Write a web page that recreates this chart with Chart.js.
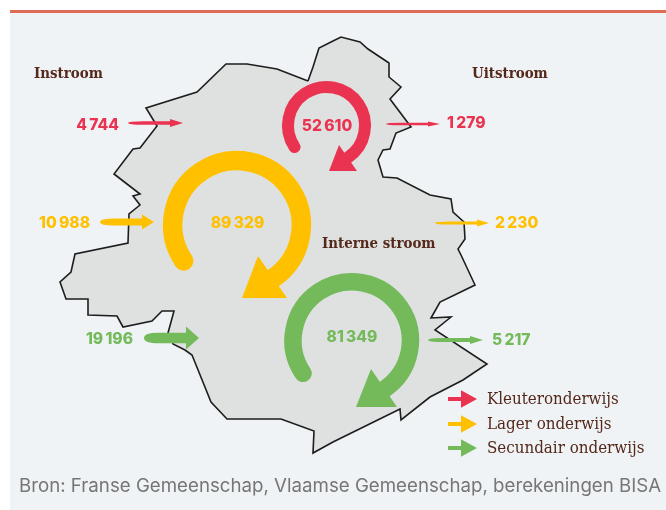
<!DOCTYPE html>
<html lang="nl">

<head>
    <meta charset="UTF-8">
    <title>Instroom en uitstroom onderwijs</title>
    <script src="https://cdn.jsdelivr.net/npm/chart.js"></script>
    <style>
        html, body { margin: 0; padding: 0; background: #fff; }
        #panel { position: absolute; left: 10px; top: 10px; width: 656px; height: 497px; background: #eff3f5; border-top: 3px solid #dd6b55; }
        #wrap { position: absolute; left: 0; top: 0; width: 666px; height: 510px; }
    </style>
</head>

<body>
    <div id="panel"></div>
    <div id="wrap"><canvas id="chart" width="666" height="510"></canvas></div>

    <script>
        const categories = ['Kleuteronderwijs', 'Lager onderwijs', 'Secundair onderwijs'];
        const instroom = [4744, 10988, 19196];
        const uitstroom = [1279, 2230, 5217];
        const interneStroom = [52610, 89329, 81349];

        // contour van het gewest, in de eenheden van de assen
        const mapX = [308, 313, 319, 333, 341, 360, 368, 389, 389, 401, 390, 411, 396, 390, 383, 378, 383, 397, 430, 451, 453, 464, 465, 458, 461, 475, 440, 431, 451, 435, 487, 463, 430, 401, 400, 333, 313, 314, 281, 227, 211, 192, 185, 173, 168, 174, 162, 152, 123, 117, 88, 88, 66, 60, 71, 75, 128, 129, 140, 133, 140, 114, 133, 140, 157, 146, 197, 226, 247, 277, 308];
        const mapY = [81, 67, 48, 41, 37, 42, 49, 63, 77, 87, 99, 127, 133, 149, 150, 160, 177, 178, 195, 199, 212, 222, 239, 249, 255, 285, 302, 318, 317, 330, 364, 380, 397, 420, 409, 442, 453, 431, 419, 419, 402, 355, 350, 344, 333, 311, 311, 321, 327, 316, 315, 299, 299, 282, 272, 254, 243, 214, 205, 196, 194, 174, 149, 148, 126, 108, 92, 64, 64, 69, 81];

        const colors = ['#ea3350', '#ffc000', '#74ba5a'];
        const brown = '#54281a';
        const numberFont = '800 15.6px Inter';
        const headFont = 'bold 14.9px "DejaVu Serif"';
        const legendFont = '16.8px "DejaVu Serif"';

        // cirkelpijlen: middelpunt, straal, breedte, kop
        const loops = [
            { cx: 326.5, cy: 125.5, r: 38.5, w: 12, head: [[339, 145], [357, 171], [329, 171]], tx: 327, ty: 131 },
            { cx: 237, cy: 225, r: 64.3, w: 19.5, head: [[258, 256], [287, 298], [242, 298]], tx: 237.5, ty: 228 },
            { cx: 351.7, cy: 340.5, r: 58.7, w: 17.5, head: [[371, 369], [397, 407], [356, 407]], tx: 352, ty: 342 }
        ];

        // rechte pijlen: staart, punt, y, schachtbreedte, begin kop, hoogte kop
        const inArrows = [
            { x0: 128, x1: 183, y: 123, w: 3.5, hx: 170, hh: 8, tx: 119, ty: 130 },
            { x0: 100, x1: 154, y: 222, w: 7, hx: 142, hh: 15, tx: 90, ty: 228 },
            { x0: 144, x1: 199, y: 338, w: 10.5, hx: 186, hh: 23, tx: 133, ty: 344 }
        ];
        const outArrows = [
            { x0: 386, x1: 440, y: 124, w: 2.5, hx: 428, hh: 5, tx: 447, ty: 128 },
            { x0: 435, x1: 489, y: 223, w: 3, hx: 477, hh: 7, tx: 495, ty: 228 },
            { x0: 428, x1: 483, y: 340, w: 4, hx: 470, hh: 8, tx: 492, ty: 345 }
        ];
        const legendY = [399, 424, 448];

        // getal met smalle spatie als duizendtalscheiding
        function formatNumber(v) {
            return String(v).replace(/\B(?=(\d{3})+$)/g, '\u2009');
        }

        function drawText(c, text, x, y, font, color, align, stretch) {
            c.font = font;
            c.fontStretch = stretch || 'normal';
            c.fillStyle = color;
            c.textAlign = align || 'left';
            c.textBaseline = 'alphabetic';
            c.fillText(text, x, y);
        }

        const flowPlugin = {
            id: 'flows',
            afterDatasetsDraw(chart) {
                const c = chart.ctx;
                const sx = v => chart.scales.x.getPixelForValue(v);
                const sy = v => chart.scales.y.getPixelForValue(v);

                // rechte pijl, de staart loopt taps toe
                function arrow(a, color, flat) {
                    const top = sy(a.y) - a.w / 2, bottom = sy(a.y) + a.w / 2;
                    const bend = sx(a.x0) + (flat ? 0 : Math.max(a.w * 1.2, (a.hx - a.x0) * 0.35));
                    c.fillStyle = color;
                    c.beginPath();
                    if (flat) {
                        c.moveTo(sx(a.x0), top);
                    } else {
                        c.moveTo(sx(a.x0), sy(a.y));
                        c.quadraticCurveTo(sx(a.x0), top, bend, top);
                    }
                    c.lineTo(sx(a.hx), top);
                    c.lineTo(sx(a.hx), sy(a.y) - a.hh / 2);
                    c.lineTo(sx(a.x1), sy(a.y));
                    c.lineTo(sx(a.hx), sy(a.y) + a.hh / 2);
                    c.lineTo(sx(a.hx), bottom);
                    if (flat) {
                        c.lineTo(sx(a.x0), bottom);
                    } else {
                        c.lineTo(bend, bottom);
                        c.quadraticCurveTo(sx(a.x0), bottom, sx(a.x0), sy(a.y));
                    }
                    c.closePath();
                    c.fill();
                }

                c.save();

                loops.forEach((l, i) => {
                    c.strokeStyle = colors[i];
                    c.lineWidth = l.w;
                    c.lineCap = 'round';
                    c.beginPath();
                    c.arc(sx(l.cx), sy(l.cy), l.r, 146 * Math.PI / 180, 56 * Math.PI / 180);
                    c.stroke();
                    c.fillStyle = colors[i];
                    c.beginPath();
                    l.head.forEach((p, k) => k ? c.lineTo(sx(p[0]), sy(p[1])) : c.moveTo(sx(p[0]), sy(p[1])));
                    c.closePath();
                    c.fill();
                    drawText(c, formatNumber(interneStroom[i]), sx(l.tx), sy(l.ty), numberFont, colors[i], 'center');
                });

                inArrows.forEach((a, i) => {
                    arrow(a, colors[i], false);
                    drawText(c, formatNumber(instroom[i]), sx(a.tx), sy(a.ty), numberFont, colors[i], 'right');
                });
                outArrows.forEach((a, i) => {
                    arrow(a, colors[i], false);
                    drawText(c, formatNumber(uitstroom[i]), sx(a.tx), sy(a.ty), numberFont, colors[i], 'left');
                });

                drawText(c, 'Instroom', sx(34), sy(78), headFont, brown, 'left', 'condensed');
                drawText(c, 'Uitstroom', sx(472), sy(78), headFont, brown, 'left', 'condensed');
                drawText(c, 'Interne stroom', sx(322), sy(248), headFont, brown, 'left', 'condensed');

                // legende
                categories.forEach((name, i) => {
                    arrow({ x0: 448, x1: 477, y: legendY[i], w: 4, hx: 461, hh: 17.5 }, colors[i], true);
                    drawText(c, name, sx(487), sy(legendY[i] + 5), legendFont, brown, 'left', 'condensed');
                });

                drawText(c, 'Bron: Franse Gemeenschap, Vlaamse Gemeenschap, berekeningen BISA', sx(19), sy(492), '18.7px Inter', '#767676');

                c.restore();
            }
        };

        new Chart(document.getElementById('chart').getContext('2d'), {
            type: 'scatter',
            data: {
                datasets: [{
                    label: 'Contour',
                    data: mapX.map((x, i) => ({ x: x, y: mapY[i] })),
                    showLine: true,
                    fill: 'shape',
                    backgroundColor: '#dfe1e1',
                    borderColor: '#1d1d1d',
                    borderWidth: 1.6,
                    borderJoinStyle: 'miter',
                    pointRadius: 0,
                    tension: 0
                }]
            },
            options: {
                responsive: false,
                animation: false,
                layout: { padding: 0 },
                plugins: { legend: { display: false }, tooltip: { enabled: false } },
                scales: {
                    x: { type: 'linear', display: false, min: 0, max: 666 },
                    y: { type: 'linear', display: false, min: 0, max: 510, reverse: true }
                }
            },
            plugins: [flowPlugin]
        });
    </script>
</body>

</html>
